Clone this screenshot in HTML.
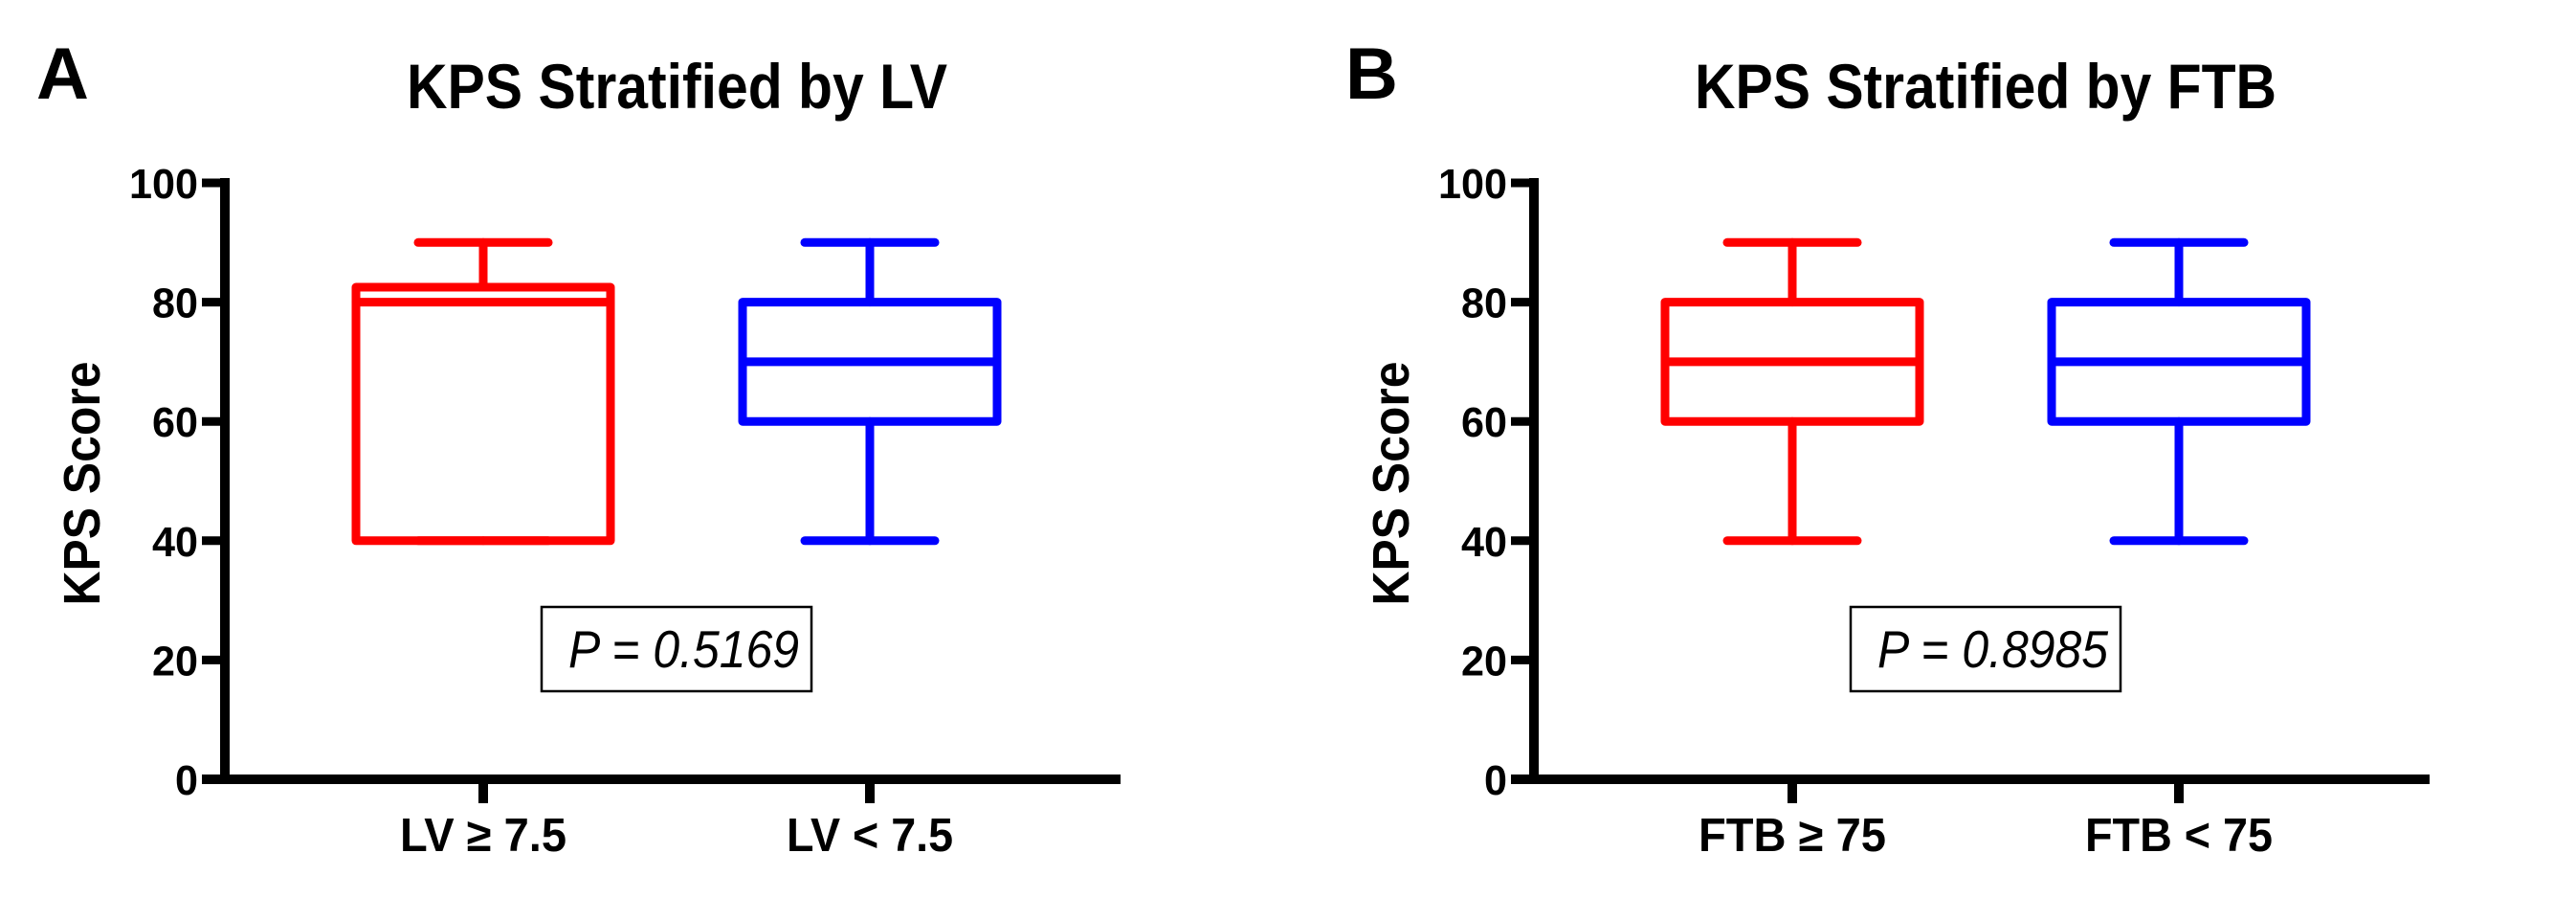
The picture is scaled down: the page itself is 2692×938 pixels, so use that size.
<!DOCTYPE html>
<html><head><meta charset="utf-8"><style>
html,body{margin:0;padding:0;background:#fff;}
svg{display:block;}
text{font-family:"Liberation Sans",Arial,sans-serif;font-weight:bold;fill:#000;}
</style></head><body>
<svg id="chart" width="2692" height="938" viewBox="0 0 2692 938" xmlns="http://www.w3.org/2000/svg"></svg>
<script>
const panelLetters = ["A", "B"];
const panelTitles = ["KPS Stratified by LV", "KPS Stratified by FTB"];
const categoriesA = ["LV \u2265 7.5", "LV < 7.5"];
const categoriesB = ["FTB \u2265 75", "FTB < 75"];
const pValues = ["P = 0.5169", "P = 0.8985"];
// [min, q1, median, q3, max]
const boxA1 = [40, 40, 80, 82.5, 90];
const boxA2 = [40, 60, 70, 80, 90];
const boxB1 = [40, 60, 70, 80, 90];
const boxB2 = [40, 60, 70, 80, 90];
const yTicks = [0, 20, 40, 60, 80, 100];
const seriesColors = ["#ff0000", "#0000ff"];

const svg = document.getElementById('chart');
const NS = 'http://www.w3.org/2000/svg';
function mk(tag, attrs, parent){
  const e = document.createElementNS(NS, tag);
  for (const k in attrs) e.setAttribute(k, attrs[k]);
  (parent||svg).appendChild(e);
  return e;
}

function drawPanel(idx, off, cats, boxes){
  const g = mk('g', {transform: 'translate(' + off + ',0)'});
  
  
  const y0 = 814, y100 = 191, axX = 235, axEnd = 1171;
  const yS = v => y0 - (y0 - y100) * v / 100;
  const xS = i => 505 + i * 404;

  let t = mk('text', {x: 38, y: 103, 'font-size': 76}, g);
  t.textContent = panelLetters[idx];
  
  

  const tw = idx === 0 ? 565 : 608;
  t = mk('text', {x: idx === 0 ? 425 : 403, y: 113, 'font-size': 66, textLength: tw, lengthAdjust: 'spacingAndGlyphs'}, g);
  t.textContent = panelTitles[idx];
  
  

  t = mk('text', {x: 0, y: 0, 'font-size': 54, 'text-anchor': 'middle', transform: 'translate(104,505) rotate(-90)', textLength: 255, lengthAdjust: 'spacingAndGlyphs'}, g);
  t.textContent = 'KPS Score';
  
  

  let l = mk('line', {x1: axX, y1: y100 - 5, x2: axX, y2: y0 + 5, stroke: '#000', 'stroke-width': 10}, g);
  
  
  l = mk('line', {x1: 211, y1: y0, x2: axEnd, y2: y0, stroke: '#000', 'stroke-width': 10}, g);
  
  

  yTicks.forEach(v => {
    const tk = mk('line', {x1: 211, y1: yS(v), x2: axX, y2: yS(v), stroke: '#000', 'stroke-width': 9}, g);
    
    
    const lb = mk('text', {x: 207, y: yS(v) + 16, 'font-size': 44, 'text-anchor': 'end', textLength: String(v).length * 24, lengthAdjust: 'spacingAndGlyphs'}, g);
    lb.textContent = v;
    
    
  });

  cats.forEach((c, i) => {
    const cx = xS(i);
    const tk = mk('line', {x1: cx, y1: y0, x2: cx, y2: 839, stroke: '#000', 'stroke-width': 10}, g);
    
    
    const lb = mk('text', {x: cx, y: 889, 'font-size': 49, 'text-anchor': 'middle', textLength: idx === 0 ? 174 : 196, lengthAdjust: 'spacingAndGlyphs'}, g);
    lb.textContent = c;
    
    

    const b = boxes[i], col = seriesColors[i];
    const bg = mk('g', {stroke: col, 'stroke-width': 9, fill: 'none', 'stroke-linecap': 'round', 'stroke-linejoin': 'round'}, g);
    
    
    const hw = 133, cw = 68;
    mk('line', {x1: cx, y1: yS(b[4]), x2: cx, y2: yS(b[3])}, bg);
    mk('line', {x1: cx - cw, y1: yS(b[4]), x2: cx + cw, y2: yS(b[4])}, bg);
    mk('line', {x1: cx, y1: yS(b[1]), x2: cx, y2: yS(b[0])}, bg);
    mk('line', {x1: cx - cw, y1: yS(b[0]), x2: cx + cw, y2: yS(b[0])}, bg);
    mk('rect', {x: cx - hw, y: yS(b[3]), width: hw * 2, height: yS(b[1]) - yS(b[3])}, bg);
    mk('line', {x1: cx - hw, y1: yS(b[2]), x2: cx + hw, y2: yS(b[2])}, bg);
  });

  const pg = mk('g', {}, g);
  
  
  mk('rect', {x: 566, y: 634, width: 282, height: 88, fill: 'none', stroke: '#000', 'stroke-width': 2.5}, pg);
  t = mk('text', {x: 594, y: 697, 'font-size': 55, 'font-style': 'italic', textLength: 241, lengthAdjust: 'spacingAndGlyphs'}, pg);
  t.style.fontWeight = 'normal';
  t.textContent = pValues[idx];
  
  
}

drawPanel(0, 0, categoriesA, [boxA1, boxA2]);
drawPanel(1, 1368, categoriesB, [boxB1, boxB2]);
</script>
</body></html>
